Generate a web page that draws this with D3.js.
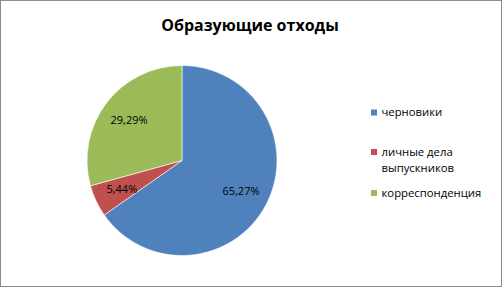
<!DOCTYPE html>
<html><head><meta charset="utf-8">
<script src="https://cdn.jsdelivr.net/npm/d3@7"></script>
<style>body{margin:0;background:#fff}svg{display:block}text{font-family:"Open Sans","Noto Sans",sans-serif}</style>
</head><body>
<script>
const categories = ["черновики", "личные дела выпускников", "корреспонденция"];
const values = [65.27, 5.44, 29.29];
const labels = ["65,27%", "5,44%", "29,29%"];
const colors = ["#4F81BD", "#C0504D", "#9BBB59"];
const legendLines = [["черновики"], ["личные дела", "выпускников"], ["корреспонденция"]];

const W = 502, H = 287;
const svg = d3.select("body").append("svg").attr("width", W).attr("height", H);
svg.append("rect").attr("x", 0.5).attr("y", 0.5).attr("width", W - 1).attr("height", H - 1)
  .attr("fill", "#fff").attr("stroke", "#8c8c8c");

svg.append("text").attr("x", 250).attr("y", 31).attr("text-anchor", "middle")
  .attr("font-size", 16).attr("font-weight", "bold").attr("fill", "#000").text("Образующие отходы");

const cx = 182, cy = 160.5, r = 95;
const pie = d3.pie().sort(null).value(d => d)(values);
const arc = d3.arc().innerRadius(0).outerRadius(r);
const labelArc = d3.arc().innerRadius(r * 0.7).outerRadius(r * 0.7);
const g = svg.append("g").attr("transform", `translate(${cx},${cy})`);
g.selectAll("path").data(pie).join("path").attr("d", arc)
  .attr("fill", (d, i) => colors[i]).attr("stroke", "#fff").attr("stroke-width", 0.6);
g.selectAll("text").data(pie).join("text")
  .attr("transform", d => `translate(${labelArc.centroid(d)})`)
  .attr("text-anchor", "middle").attr("dy", "0.35em").attr("font-size", 11).attr("fill", "#000")
  .text((d, i) => labels[i]);

const legendY = [112.5, 152, 193];
const lg = svg.append("g");
categories.forEach((c, i) => {
  lg.append("rect").attr("x", 371).attr("y", legendY[i] - 3).attr("width", 6).attr("height", 6).attr("fill", colors[i]);
  const t = lg.append("text").attr("x", 381.5).attr("y", legendY[i]).attr("font-size", 11.3).attr("fill", "#000");
  legendLines[i].forEach((l, j) => t.append("tspan").attr("x", 381.5).attr("dy", j === 0 ? "0.35em" : "16px").text(l));
});
</script>
</body></html>
